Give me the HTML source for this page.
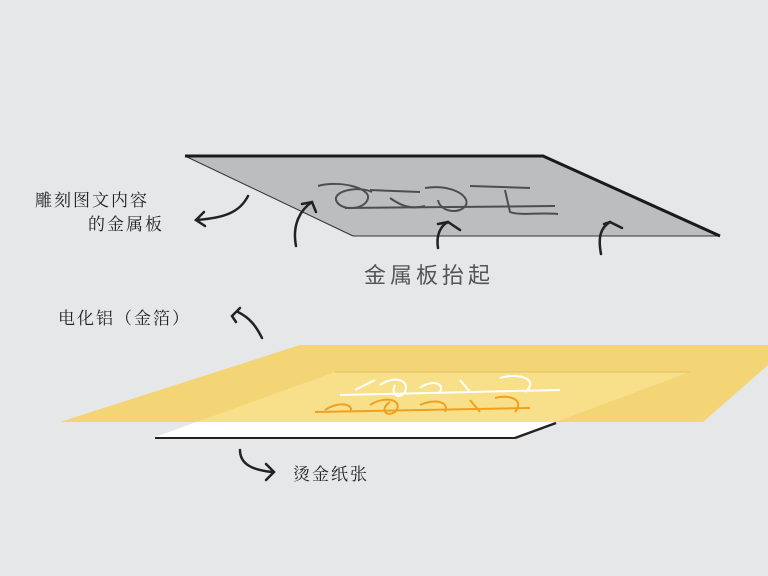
<!DOCTYPE html>
<html><head><meta charset="utf-8"><style>
body{margin:0;background:#e6e7e8;}
svg{display:block}
text{font-family:"Liberation Serif","Noto Serif CJK SC",serif;}
</style></head><body>
<svg width="768" height="576" viewBox="0 0 768 576">
<rect width="768" height="576" fill="#e6e7e8"/>
<polygon points="185,156 543,156 720,236 353,236" fill="#bcbdbe"/>
<line x1="185" y1="156" x2="353" y2="236" stroke="#333" stroke-width="1"/>
<line x1="353" y1="236" x2="720" y2="236" stroke="#333" stroke-width="1"/>
<polyline points="185,156 543,156 720,236" fill="none" stroke="#1a1a1a" stroke-width="3"/>
<g fill="none" stroke="#333" stroke-width="2" opacity="0.8">
<path d="M318,186 C340,180 370,188 368,198 C366,210 340,212 336,200 C334,190 360,186 372,192"/>
<path d="M370,190 L420,192 M390,198 C400,205 410,210 425,206"/>
<path d="M425,188 C450,184 470,195 466,205 C460,215 440,212 438,200"/>
<path d="M470,186 L530,188 M505,190 L510,212 C520,216 540,212 558,214"/>
<path d="M345,208 L555,206"/>
</g>
<g fill="none" stroke="#222" stroke-width="2.5" stroke-linecap="round">
<path d="M296,246 C292,225 300,210 312,202"/><path d="M302,204 L312,202 L316,212"/>
<path d="M438,248 C436,236 440,226 448,222"/><path d="M438,224 L448,222 L460,230"/>
<path d="M601,254 C598,238 600,228 610,222"/><path d="M604,224 L610,222 L622,228"/>
<path d="M248,196 C240,212 225,218 196,220"/><path d="M204,212 L196,220 L205,226"/>
<path d="M262,338 C256,326 250,318 238,312"/><path d="M236,322 L232,316 L240,308"/>
<path d="M240,450 C240,464 252,470 272,472"/><path d="M266,464 L274,472 L266,480"/>
</g>
<polygon points="335,372 690,372 515,437 155,437" fill="#ffffff"/>
<line x1="155" y1="438" x2="515" y2="438" stroke="#222" stroke-width="2"/>
<line x1="515" y1="438" x2="556" y2="423" stroke="#222" stroke-width="2.5"/>
<polygon points="300,345 768,345 768,365 703,422 60,422" fill="#f3d46f" opacity="0.95"/>
<polygon points="335,372 690,372 555,422 197,422" fill="#f8e08a"/>
<line x1="335" y1="372" x2="690" y2="372" stroke="#e0c060" stroke-width="1"/>
<g fill="none" stroke="#fff" stroke-width="2">
<path d="M355,390 L375,380 M380,385 C395,375 410,380 405,392 C400,400 390,395 395,385"/>
<path d="M420,388 C430,380 445,382 440,392 M460,380 L470,392 M500,378 C520,372 540,380 525,392"/>
<path d="M340,395 L560,390"/>
</g>
<g fill="none" stroke="#f0a020" stroke-width="2">
<path d="M325,410 C340,400 355,405 350,412 M370,405 C385,395 405,400 395,412 C385,418 380,408 390,402"/>
<path d="M420,405 C435,398 450,402 445,412 M470,400 L480,412 M495,398 C510,394 525,400 515,412"/>
<path d="M315,412 L530,408"/>
</g>
<text x="35" y="206" font-size="17" fill="#222" letter-spacing="2">雕刻图文内容</text>
<text x="88" y="230" font-size="17" fill="#222" letter-spacing="2">的金属板</text>
<text x="364" y="283" font-size="22" fill="#555" letter-spacing="4" style="font-family:'Liberation Sans','Noto Sans CJK SC',sans-serif">金属板抬起</text>
<text x="58" y="324" font-size="17" fill="#222" letter-spacing="2">电化铝（金箔）</text>
<text x="293" y="480" font-size="17" fill="#222" letter-spacing="2">烫金纸张</text>
</svg>
</body></html>
